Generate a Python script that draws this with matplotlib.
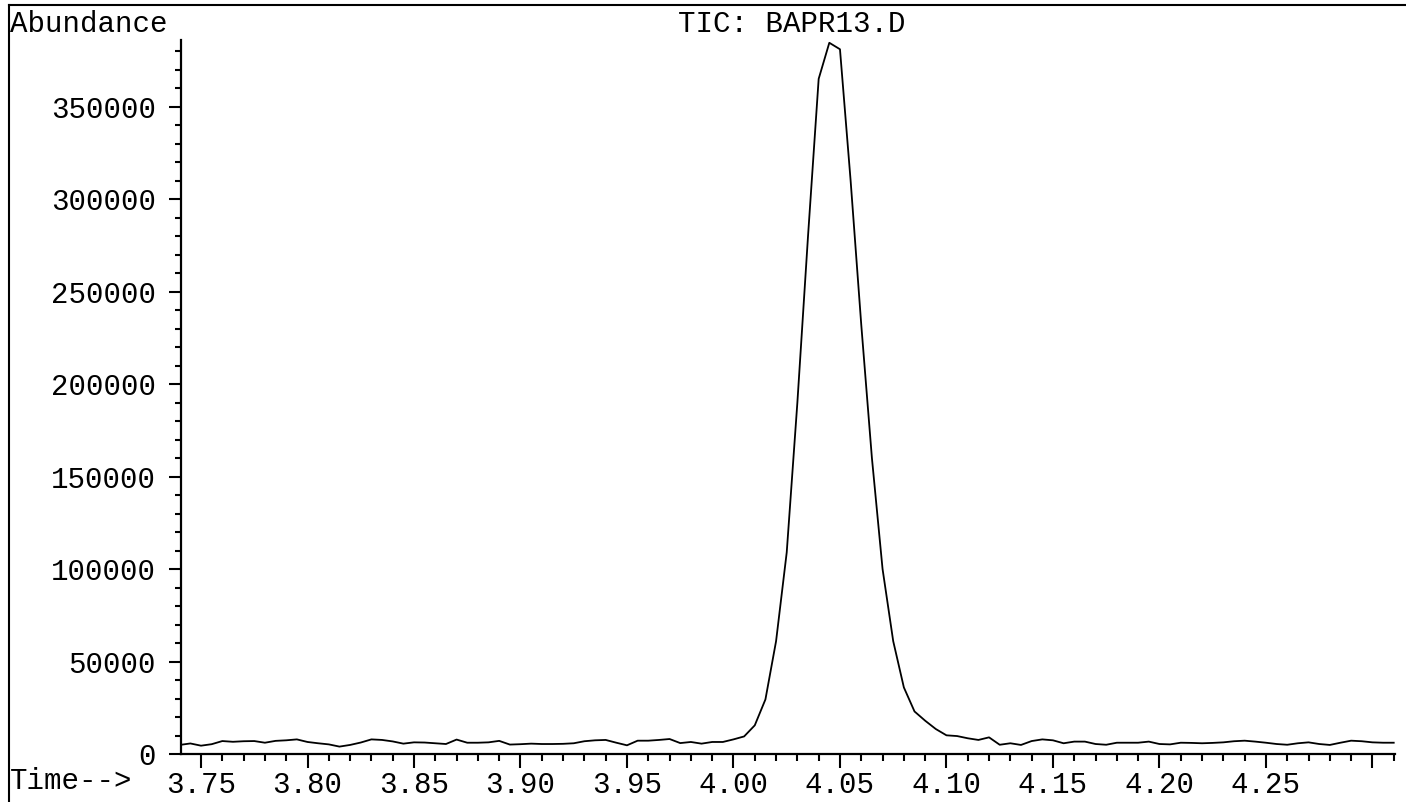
import matplotlib
matplotlib.use('Agg')
import matplotlib.pyplot as plt
from matplotlib.lines import Line2D
from matplotlib.ticker import MultipleLocator, FormatStrFormatter
import numpy as np

plt.rcParams['font.family'] = ['Liberation Mono', 'DejaVu Sans Mono']

# scan times (min) and total ion current
scan_time = [
    3.740, 3.745, 3.750, 3.755, 3.760, 3.765, 3.770, 3.775, 3.780, 3.785,
    3.790, 3.795, 3.800, 3.805, 3.810, 3.815, 3.820, 3.825, 3.830, 3.835,
    3.840, 3.845, 3.850, 3.855, 3.860, 3.865, 3.870, 3.875, 3.880, 3.885,
    3.890, 3.895, 3.900, 3.905, 3.910, 3.915, 3.920, 3.925, 3.930, 3.935,
    3.940, 3.945, 3.950, 3.955, 3.960, 3.965, 3.970, 3.975, 3.980, 3.985,
    3.990, 3.995, 4.000, 4.005, 4.010, 4.015, 4.020, 4.025, 4.030, 4.035,
    4.040, 4.045, 4.050, 4.055, 4.060, 4.065, 4.070, 4.075, 4.080, 4.085,
    4.090, 4.095, 4.100, 4.105, 4.110, 4.115, 4.120, 4.125, 4.130, 4.135,
    4.140, 4.145, 4.150, 4.155, 4.160, 4.165, 4.170, 4.175, 4.180, 4.185,
    4.190, 4.195, 4.200, 4.205, 4.210, 4.215, 4.220, 4.225, 4.230, 4.235,
    4.240, 4.245, 4.250, 4.255, 4.260, 4.265, 4.270, 4.275, 4.280, 4.285,
    4.290, 4.295, 4.300, 4.305, 4.310]
abundance = [
    4900, 5700, 4500, 5300, 7000, 6600, 6900, 7000, 6100, 7100,
    7400, 7900, 6500, 5800, 5200, 4000, 4900, 6200, 7900, 7600,
    6800, 5600, 6300, 6200, 5800, 5400, 7800, 6100, 6100, 6300,
    7100, 5100, 5300, 5600, 5400, 5400, 5500, 5800, 6900, 7400,
    7600, 6100, 4700, 7200, 7200, 7600, 8100, 5900, 6500, 5600,
    6500, 6500, 7900, 9500, 15500, 29500, 61000, 109000, 190000, 280000,
    365000, 384500, 381000, 310000, 232000, 160000, 100000, 61000, 36000, 23000,
    18000, 13500, 10100, 9700, 8500, 7600, 9000, 5000, 5800, 4900,
    7000, 7900, 7400, 5800, 6700, 6700, 5400, 5000, 6100, 6100,
    6100, 6700, 5400, 5200, 6100, 6000, 5800, 6000, 6300, 6900,
    7200, 6700, 6100, 5400, 5000, 5800, 6300, 5400, 4900, 6100,
    7200, 6900, 6300, 6100, 6100]

x_tick_vals = [3.75, 3.80, 3.85, 3.90, 3.95, 4.00, 4.05, 4.10, 4.15, 4.20, 4.25, 4.30]
x_tick_labels = ['3.75', '3.80', '3.85', '3.90', '3.95', '4.00', '4.05',
                 '4.10', '4.15', '4.20', '4.25', '']

title = 'TIC: BAPR13.D'

W, H = 1406, 802
fig = plt.figure(figsize=(W / 100, H / 100), dpi=100)
fig.patch.set_facecolor('white')

# axes box in pixels: x 181..1395, y 40..754
ax = fig.add_axes([181 / W, (H - 754) / H, (1395 - 181) / W, (754 - 40) / H])
ax.plot(scan_time, abundance, color='black', linewidth=1.3)

ax.set_xlim(3.7406, 4.3106)
ax.set_ylim(0, 386000)

for s in ['top', 'right']:
    ax.spines[s].set_visible(False)
for s in ['left', 'bottom']:
    ax.spines[s].set_linewidth(1.6)

ax.set_xticks(x_tick_vals)
ax.set_xticklabels(x_tick_labels)
ax.xaxis.set_minor_locator(MultipleLocator(0.01))
ax.yaxis.set_major_locator(MultipleLocator(50000))
ax.yaxis.set_minor_locator(MultipleLocator(10000))
ax.yaxis.set_major_formatter(FormatStrFormatter('%d'))

ax.tick_params(axis='x', which='major', direction='out', length=10, width=1.5,
               pad=2, labelsize=21)
ax.tick_params(axis='x', which='minor', direction='out', length=5, width=1.5)
ax.tick_params(axis='y', which='major', direction='out', length=9, width=1.5,
               pad=9, labelsize=21)
ax.tick_params(axis='y', which='minor', direction='out', length=4, width=1.5)

# header and frame of the printout
fig.text(10 / W, 1 - 32 / H, 'Abundance', fontsize=21, ha='left', va='baseline')
fig.text(792 / W, 1 - 32 / H, title, fontsize=21, ha='center', va='baseline')
fig.text(10 / W, 1 - 789 / H, 'Time-->', fontsize=21, ha='left', va='baseline')

fig.add_artist(Line2D([9 / W, 1], [1 - 5 / H, 1 - 5 / H], color='black', linewidth=1.5))
fig.add_artist(Line2D([9 / W, 9 / W], [0, 1 - 5 / H], color='black', linewidth=1.5))

plt.savefig('out.png', dpi=100, facecolor='white')
